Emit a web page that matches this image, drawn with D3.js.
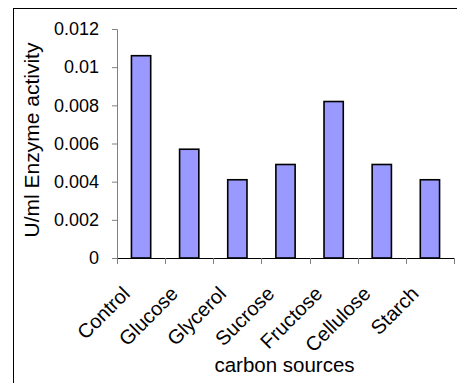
<!DOCTYPE html>
<html>
<head>
<meta charset="utf-8">
<script src="https://cdn.jsdelivr.net/npm/d3@7"></script>
<style>
  html, body { margin: 0; padding: 0; background: #fff; }
  svg { display: block; }
  text { font-family: Arial, "Liberation Sans", sans-serif; fill: #000; }
</style>
</head>
<body>
<svg id="chart" width="457" height="383"></svg>
<script>
// Enzyme activity by carbon source
const categories = ["Control", "Glucose", "Glycerol", "Sucrose", "Fructose", "Cellulose", "Starch"];
const activity = [0.0106, 0.0057, 0.0041, 0.0049, 0.0082, 0.0049, 0.0041];
const yTicks = [0, 0.002, 0.004, 0.006, 0.008, 0.01, 0.012];
const yTickLabels = ["0", "0.002", "0.004", "0.006", "0.008", "0.01", "0.012"];
const xTitle = "carbon sources";
const yTitle = "U/ml Enzyme activity";

const svg = d3.select("#chart");

// outer chart frame (runs off the right and bottom edges)
svg.append("rect")
  .attr("x", 13.5).attr("y", 8.5)
  .attr("width", 470).attr("height", 400)
  .attr("fill", "none").attr("stroke", "#000").attr("stroke-width", 1);

const plot = { left: 117, right: 454, top: 29, bottom: 258 };

const x = d3.scaleBand()
  .domain(categories)
  .range([plot.left, plot.right])
  .paddingInner(0.6)
  .paddingOuter(0.3);

const y = d3.scaleLinear()
  .domain([0, 0.012])
  .range([plot.bottom, plot.top]);

// bars
svg.append("g").selectAll("rect")
  .data(categories)
  .join("rect")
  .attr("x", d => x(d))
  .attr("width", x.bandwidth())
  .attr("y", (d, i) => y(activity[i]))
  .attr("height", (d, i) => y(0) - y(activity[i]))
  .attr("fill", "#9999FF")
  .attr("stroke", "#000")
  .attr("stroke-width", 1.6);

// y axis
const yAxis = d3.axisLeft(y)
  .tickValues(yTicks)
  .tickFormat((d, i) => yTickLabels[i])
  .tickSize(5)
  .tickPadding(13);

const gy = svg.append("g")
  .attr("transform", `translate(${plot.left},0)`)
  .call(yAxis);
gy.select(".domain").attr("stroke", "#808080").attr("stroke-width", 1);
gy.selectAll(".tick line").attr("stroke", "#808080");
gy.selectAll(".tick text")
  .attr("font-size", 18)
  .attr("font-family", "Arial, 'Liberation Sans', sans-serif");

// x axis: ticks sit on category boundaries
const bounds = d3.range(categories.length + 1)
  .map(i => plot.left + i * (plot.right - plot.left) / categories.length);
const gx = svg.append("g");
gx.append("line")
  .attr("x1", plot.left).attr("x2", plot.right)
  .attr("y1", plot.bottom + 0.5).attr("y2", plot.bottom + 0.5)
  .attr("stroke", "#000").attr("stroke-width", 1);
gx.selectAll("line.tk")
  .data(bounds)
  .join("line")
  .attr("class", "tk")
  .attr("x1", d => Math.round(d) + 0.5).attr("x2", d => Math.round(d) + 0.5)
  .attr("y1", plot.bottom).attr("y2", plot.bottom + 6)
  .attr("stroke", "#808080");

// rotated category labels
gx.selectAll("text")
  .data(categories)
  .join("text")
  .attr("transform", d => `translate(${x(d) + x.bandwidth() / 2 - 10},${plot.bottom + 37}) rotate(-45)`)
  .attr("text-anchor", "end")
  .attr("font-size", 20)
  .text(d => d);

// axis titles
svg.append("text")
  .attr("x", (plot.left + plot.right) / 2 - 1)
  .attr("y", 372)
  .attr("text-anchor", "middle")
  .attr("font-size", 20.5)
  .text(xTitle);

svg.append("text")
  .attr("transform", `translate(39,140) rotate(-90)`)
  .attr("text-anchor", "middle")
  .attr("font-size", 21)
  .text(yTitle);
</script>
</body>
</html>
